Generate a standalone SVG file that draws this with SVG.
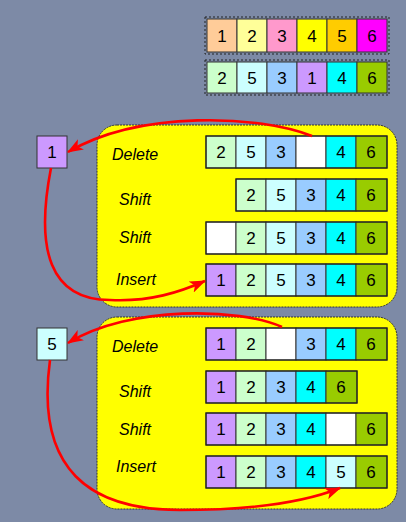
<svg xmlns="http://www.w3.org/2000/svg" width="406" height="522" viewBox="0 0 406 522">
<defs>
<marker id="ah" viewBox="0 0 16 12" refX="15" refY="6" markerWidth="16" markerHeight="12" orient="auto" markerUnits="userSpaceOnUse">
<path d="M0,0 L16,6 L0,12 L4,6 z" fill="#FF0000"/>
</marker>
<style>
.c{stroke:#333;stroke-width:1}
.row{fill:none;stroke:#222;stroke-width:1.2}
.dash{fill:none;stroke:#222;stroke-width:1;stroke-dasharray:2,2}
.n{font-family:"Liberation Sans",Arial,sans-serif;font-size:17px;fill:#000;text-anchor:middle}
.lb{font-family:"Liberation Sans",Arial,sans-serif;font-size:16px;font-style:italic;fill:#000}
.panel{fill:#FFFF00;stroke:#333;stroke-width:1;stroke-dasharray:2,1}
.arr{fill:none;stroke:#FF0000;stroke-width:2.6;marker-end:url(#ah)}
.a{fill:#FFCC99}.b{fill:#FFFF99}.p{fill:#FF99CC}.y{fill:#FFFF00}.o{fill:#FFCC00}.m{fill:#FF00FF}
.g{fill:#CCFFCC}.lc{fill:#CCFFFF}.bl{fill:#99CCFF}.v{fill:#CC99FF}.cy{fill:#00FFFF}.ol{fill:#99CC00}.w{fill:#FFFFFF}
</style>
</defs>
<rect width="406" height="522" fill="#7D8AA6"/>

<g id="orig">
<rect class="dash" x="205" y="17" width="184" height="37"/>
<rect class="c a" x="207" y="19" width="30" height="33"/><text class="n" x="222" y="42">1</text>
<rect class="c b" x="237" y="19" width="30" height="33"/><text class="n" x="252" y="42">2</text>
<rect class="c p" x="267" y="19" width="30" height="33"/><text class="n" x="282" y="42">3</text>
<rect class="c y" x="297" y="19" width="30" height="33"/><text class="n" x="312" y="42">4</text>
<rect class="c o" x="327" y="19" width="30" height="33"/><text class="n" x="342" y="42">5</text>
<rect class="c m" x="357" y="19" width="30" height="33"/><text class="n" x="372" y="42">6</text>
</g>
<g id="start">
<rect class="dash" x="205" y="60" width="184" height="35"/>
<rect class="c g" x="207" y="62" width="30" height="31"/><text class="n" x="222" y="84">2</text>
<rect class="c lc" x="237" y="62" width="30" height="31"/><text class="n" x="252" y="84">5</text>
<rect class="c bl" x="267" y="62" width="30" height="31"/><text class="n" x="282" y="84">3</text>
<rect class="c v" x="297" y="62" width="30" height="31"/><text class="n" x="312" y="84">1</text>
<rect class="c cy" x="327" y="62" width="30" height="31"/><text class="n" x="342" y="84">4</text>
<rect class="c ol" x="357" y="62" width="30" height="31"/><text class="n" x="372" y="84">6</text>
</g>

<g id="panel1">
<rect class="panel" x="97" y="125" width="300" height="182" rx="20"/>
<text class="lb" x="112" y="160">Delete</text>
<text class="lb" x="119" y="205">Shift</text>
<text class="lb" x="119" y="243">Shift</text>
<text class="lb" x="116" y="285">Insert</text>
<g id="p1r1">
<rect class="c g" x="206" y="136" width="30" height="32"/><text class="n" x="221" y="158">2</text>
<rect class="c lc" x="236" y="136" width="30" height="32"/><text class="n" x="251" y="158">5</text>
<rect class="c bl" x="266" y="136" width="30" height="32"/><text class="n" x="281" y="158">3</text>
<rect class="c w" x="296" y="136" width="30" height="32"/>
<rect class="c cy" x="326" y="136" width="30" height="32"/><text class="n" x="341" y="158">4</text>
<rect class="c ol" x="356" y="136" width="31" height="32"/><text class="n" x="371" y="158">6</text>
<rect class="row" x="206" y="136" width="181" height="32"/>
</g>
<g id="p1r2">
<rect class="c g" x="236" y="179" width="30" height="32"/><text class="n" x="251" y="201">2</text>
<rect class="c lc" x="266" y="179" width="30" height="32"/><text class="n" x="281" y="201">5</text>
<rect class="c bl" x="296" y="179" width="30" height="32"/><text class="n" x="311" y="201">3</text>
<rect class="c cy" x="326" y="179" width="30" height="32"/><text class="n" x="341" y="201">4</text>
<rect class="c ol" x="356" y="179" width="31" height="32"/><text class="n" x="371" y="201">6</text>
<rect class="row" x="236" y="179" width="151" height="32"/>
</g>
<g id="p1r3">
<rect class="c w" x="206" y="222" width="30" height="32"/>
<rect class="c g" x="236" y="222" width="30" height="32"/><text class="n" x="251" y="244">2</text>
<rect class="c lc" x="266" y="222" width="30" height="32"/><text class="n" x="281" y="244">5</text>
<rect class="c bl" x="296" y="222" width="30" height="32"/><text class="n" x="311" y="244">3</text>
<rect class="c cy" x="326" y="222" width="30" height="32"/><text class="n" x="341" y="244">4</text>
<rect class="c ol" x="356" y="222" width="31" height="32"/><text class="n" x="371" y="244">6</text>
<rect class="row" x="206" y="222" width="181" height="32"/>
</g>
<g id="p1r4">
<rect class="c v" x="206" y="264" width="30" height="32"/><text class="n" x="221" y="286">1</text>
<rect class="c g" x="236" y="264" width="30" height="32"/><text class="n" x="251" y="286">2</text>
<rect class="c lc" x="266" y="264" width="30" height="32"/><text class="n" x="281" y="286">5</text>
<rect class="c bl" x="296" y="264" width="30" height="32"/><text class="n" x="311" y="286">3</text>
<rect class="c cy" x="326" y="264" width="30" height="32"/><text class="n" x="341" y="286">4</text>
<rect class="c ol" x="356" y="264" width="31" height="32"/><text class="n" x="371" y="286">6</text>
<rect class="row" x="206" y="264" width="181" height="32"/>
</g>
</g>
<g id="tmp1">
<rect class="c v" x="37" y="136" width="30" height="32"/><text class="n" x="52" y="158">1</text>
</g>

<g id="panel2">
<rect class="panel" x="97" y="317" width="300" height="192" rx="20"/>
<text class="lb" x="112" y="352">Delete</text>
<text class="lb" x="119" y="397">Shift</text>
<text class="lb" x="119" y="435">Shift</text>
<text class="lb" x="116" y="472">Insert</text>
<g id="p2r1">
<rect class="c v" x="206" y="328" width="30" height="32"/><text class="n" x="221" y="350">1</text>
<rect class="c g" x="236" y="328" width="30" height="32"/><text class="n" x="251" y="350">2</text>
<rect class="c w" x="266" y="328" width="30" height="32"/>
<rect class="c bl" x="296" y="328" width="30" height="32"/><text class="n" x="311" y="350">3</text>
<rect class="c cy" x="326" y="328" width="30" height="32"/><text class="n" x="341" y="350">4</text>
<rect class="c ol" x="356" y="328" width="31" height="32"/><text class="n" x="371" y="350">6</text>
<rect class="row" x="206" y="328" width="181" height="32"/>
</g>
<g id="p2r2">
<rect class="c v" x="206" y="371" width="30" height="32"/><text class="n" x="221" y="393">1</text>
<rect class="c g" x="236" y="371" width="30" height="32"/><text class="n" x="251" y="393">2</text>
<rect class="c bl" x="266" y="371" width="30" height="32"/><text class="n" x="281" y="393">3</text>
<rect class="c cy" x="296" y="371" width="30" height="32"/><text class="n" x="311" y="393">4</text>
<rect class="c ol" x="326" y="371" width="31" height="32"/><text class="n" x="341" y="393">6</text>
<rect class="row" x="206" y="371" width="151" height="32"/>
</g>
<g id="p2r3">
<rect class="c v" x="206" y="413" width="30" height="32"/><text class="n" x="221" y="435">1</text>
<rect class="c g" x="236" y="413" width="30" height="32"/><text class="n" x="251" y="435">2</text>
<rect class="c bl" x="266" y="413" width="30" height="32"/><text class="n" x="281" y="435">3</text>
<rect class="c cy" x="296" y="413" width="30" height="32"/><text class="n" x="311" y="435">4</text>
<rect class="c w" x="326" y="413" width="30" height="32"/>
<rect class="c ol" x="356" y="413" width="31" height="32"/><text class="n" x="371" y="435">6</text>
<rect class="row" x="206" y="413" width="181" height="32"/>
</g>
<g id="p2r4">
<rect class="c v" x="206" y="456" width="30" height="32"/><text class="n" x="221" y="478">1</text>
<rect class="c g" x="236" y="456" width="30" height="32"/><text class="n" x="251" y="478">2</text>
<rect class="c bl" x="266" y="456" width="30" height="32"/><text class="n" x="281" y="478">3</text>
<rect class="c cy" x="296" y="456" width="30" height="32"/><text class="n" x="311" y="478">4</text>
<rect class="c lc" x="326" y="456" width="30" height="32"/><text class="n" x="341" y="478">5</text>
<rect class="c ol" x="356" y="456" width="31" height="32"/><text class="n" x="371" y="478">6</text>
<rect class="row" x="206" y="456" width="181" height="32"/>
</g>
</g>
<g id="tmp2">
<rect class="c lc" x="37" y="328" width="30" height="32"/><text class="n" x="52" y="350">5</text>
</g>

<g id="connectors">
<path class="arr" d="M312,136 C260,115 140,110 68,152"/>
<path class="arr" d="M51,168 C35,250 50,300 110,300 C150,302 180,292 205,281"/>
<path class="arr" d="M282,327 C240,308 130,305 68,343"/>
<path class="arr" d="M50,360 C35,470 90,510 180,510 C260,510 310,500 340,488"/>
</g>
</svg>
